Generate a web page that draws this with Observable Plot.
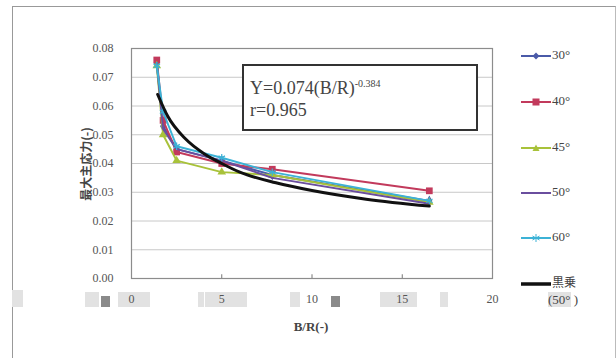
<!DOCTYPE html>
<html>
<head>
<meta charset="utf-8">
<script src="https://cdn.jsdelivr.net/npm/d3@7"></script>
<script src="https://cdn.jsdelivr.net/npm/@observablehq/plot@0.6"></script>
<style>
  html, body { margin: 0; padding: 0; background: #fff; overflow: hidden; }
  #wrap { position: relative; width: 616px; height: 358px; font-family: "Liberation Serif", "DejaVu Serif", serif; color: #444; }
  #wrap > svg { position: absolute; left: 0; top: 0; }
  #wrap svg text { font-family: "Liberation Serif", "DejaVu Serif", serif !important; }
  .abs { position: absolute; }
  .leg { position: absolute; left: 521px; height: 14px; font-size: 13px; line-height: 14px; color: #444; white-space: nowrap; }
  .leg svg { vertical-align: middle; }
  .blk { position: absolute; background: #e2e2e2; }
  .dk { position: absolute; background: #8a8a8a; }
</style>
</head>
<body>
<div id="wrap"></div>
<script>
// ---- data ----
const ratios = [1.4, 1.75, 2.5, 5, 7.8, 16.5];           // B/R
const s30 = [0.075, 0.053, 0.045, 0.041, 0.036, 0.027];
const s40 = [0.076, 0.055, 0.044, 0.040, 0.038, 0.0305];
const s45 = [0.074, 0.050, 0.041, 0.037, 0.036, 0.0265];
const s50 = [0.075, 0.052, 0.045, 0.041, 0.035, 0.026];
const s60 = [0.074, 0.058, 0.046, 0.042, 0.037, 0.027];
const fitX = [1.45, 2, 3, 4, 5, 6, 8, 10, 13, 16.5];
const fitY = [0.064, 0.0565, 0.0485, 0.0435, 0.040, 0.037, 0.0333, 0.0306, 0.0276, 0.0252];
const xTicks = [0, 5, 10, 15, 20];
const yTicks = [0, 0.01, 0.02, 0.03, 0.04, 0.05, 0.06, 0.07, 0.08];
const seriesNames = ["30°", "40°", "45°", "50°", "60°"];
const seriesColors = ["#4a5aa8", "#c23a5c", "#a8c23a", "#6a4e9e", "#3cb2d6"];
const seriesSymbols = ["diamond", "square", "triangle", null, "asterisk"];
const seriesVals = [s30, s40, s45, s50, s60];

const rows = [];
seriesNames.forEach((n, i) => ratios.forEach((x, j) => rows.push({series: n, x, y: seriesVals[i][j]})));
const fit = fitX.map((x, i) => ({x, y: fitY[i]}));

const marks = [
  Plot.ruleY(yTicks.slice(1, -1), {stroke: "#c8c8c8", strokeWidth: 1}),
  Plot.frame({stroke: "#8c8c8c", strokeWidth: 1.2}),
  Plot.ruleX(xTicks.slice(1, -1), {y1: 0, y2: 0.0013, stroke: "#777"}),
  Plot.axisY(yTicks, {tickSize: 0, tickPadding: 18, tickFormat: d => d.toFixed(2), fontSize: 12, fill: "#555", label: null}),
  Plot.axisX(xTicks, {tickSize: 0, tickPadding: 16, fontSize: 12, fill: "#555", label: null})
];
seriesNames.forEach((n, i) => {
  const d = rows.filter(r => r.series === n);
  marks.push(Plot.line(d, {x: "x", y: "y", stroke: seriesColors[i], strokeWidth: 2}));
  if (seriesSymbols[i]) {
    const sym = seriesSymbols[i];
    if (sym === "asterisk") marks.push(Plot.dot(d, {x: "x", y: "y", symbol: sym, stroke: seriesColors[i], r: 3.5, strokeWidth: 1.2}));
    else marks.push(Plot.dot(d, {x: "x", y: "y", symbol: sym, fill: seriesColors[i], r: sym === "square" ? 3.8 : 3.2}));
  }
});
marks.push(Plot.line(fit, {x: "x", y: "y", stroke: "#111", strokeWidth: 3, curve: "monotone-x"}));

const chart = Plot.plot({
  width: 616, height: 358,
  marginLeft: 131, marginRight: 124, marginTop: 48, marginBottom: 80,
  style: {background: "transparent", fontFamily: "Liberation Serif, serif", color: "#555"},
  x: {domain: [0, 20]},
  y: {domain: [0, 0.08]},
  marks
});

const wrap = document.getElementById("wrap");

// outer frame
const frame = document.createElement("div");
frame.className = "abs";
Object.assign(frame.style, {left: "12px", top: "6px", width: "602px", height: "400px", borderLeft: "1.5px solid #999", borderTop: "1.5px solid #999", borderRight: "1.5px solid #bbb"});
wrap.appendChild(frame);

// scan artifacts under the x-axis
[[12,290,11,17],[85,292,14,15],[118,292,32,15],[198,292,6,15],[205,292,42,15],[290,292,10,15],[380,292,37,15],[440,292,8,15]].forEach(([l,t,w,h]) => {
  const b = document.createElement("div"); b.className = "blk";
  Object.assign(b.style, {left: l+"px", top: t+"px", width: w+"px", height: h+"px"}); wrap.appendChild(b);
});
[[101,296,9,11],[331,296,9,11]].forEach(([l,t,w,h]) => {
  const b = document.createElement("div"); b.className = "dk";
  Object.assign(b.style, {left: l+"px", top: t+"px", width: w+"px", height: h+"px"}); wrap.appendChild(b);
});

wrap.appendChild(chart);

// y label
const yl = document.createElement("div");
yl.className = "abs";
yl.textContent = "最大主応力(-)";
Object.assign(yl.style, {left: "85px", top: "164px", transform: "translate(-50%,-50%) rotate(-90deg)", fontFamily: "'Noto Sans CJK JP', sans-serif", fontSize: "12px", fontWeight: "bold", color: "#444", whiteSpace: "nowrap"});
wrap.appendChild(yl);

// x label
const xl = document.createElement("div");
xl.className = "abs";
xl.textContent = "B/R(-)";
Object.assign(xl.style, {left: "311px", top: "327px", transform: "translate(-50%,-50%)", fontSize: "13px", fontWeight: "bold", color: "#444"});
wrap.appendChild(xl);

// equation box
const eq = document.createElement("div");
eq.className = "abs";
Object.assign(eq.style, {left: "242px", top: "64px", width: "226px", height: "63px", border: "2px solid #333", background: "#fff", fontSize: "18px", lineHeight: "22px", color: "#444", padding: "0 0 0 6px", boxSizing: "content-box"});
eq.innerHTML = '<div style="margin-top:7px">Y=0.074(B/R)<sup style="font-size:10px;vertical-align:7px">-0.384</sup></div><div>r=0.965</div>';
wrap.appendChild(eq);

// legend
const legY = [55, 101, 147, 192, 237];
function swatch(color, sym, w) {
  let s = `<svg width="30" height="10" style="overflow:visible"><line x1="0" y1="5" x2="30" y2="5" stroke="${color}" stroke-width="${w}"/>`;
  if (sym === "diamond") s += `<path d="M15,1.5L18.5,5L15,8.5L11.5,5Z" fill="${color}"/>`;
  if (sym === "square") s += `<rect x="11.5" y="1.5" width="7" height="7" fill="${color}"/>`;
  if (sym === "triangle") s += `<path d="M15,1.5L18.5,8L11.5,8Z" fill="${color}"/>`;
  if (sym === "asterisk") s += `<path d="M15,1V9M11.5,3L18.5,7M11.5,7L18.5,3" stroke="${color}" stroke-width="1"/>`;
  return s + "</svg>";
}
seriesNames.forEach((n, i) => {
  const e = document.createElement("div");
  e.className = "leg";
  e.style.top = (legY[i] - 7) + "px";
  e.innerHTML = swatch(seriesColors[i], seriesSymbols[i], 2) + `<span style="margin-left:1px">${n}</span>`;
  wrap.appendChild(e);
});
const lf = document.createElement("div");
lf.className = "leg";
lf.style.top = (282 - 7) + "px";
lf.innerHTML = swatch("#111", null, 3.5) + '<span style="margin-left:1px;font-family:\'Noto Sans CJK JP\',serif;font-size:12px">黒乗</span>';
wrap.appendChild(lf);
const lf2 = document.createElement("div");
lf2.className = "leg";
lf2.style.top = "293px";
lf2.style.left = "548px";
lf2.innerHTML = '<span style="background:#e2e2e2">(50°</span> )';
wrap.appendChild(lf2);
</script>
</body>
</html>
